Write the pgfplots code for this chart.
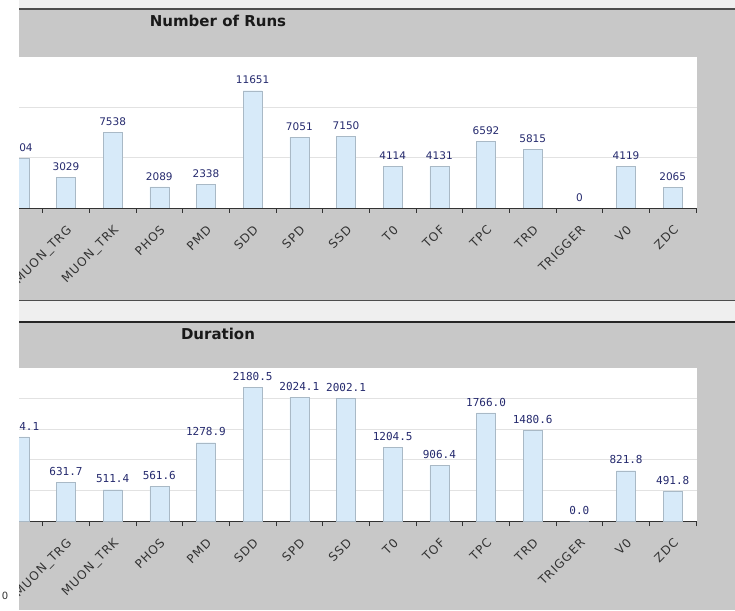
\documentclass[border=0pt]{standalone}
\usepackage{pgfplots}
\pgfplotsset{compat=1.18}
\usepackage{fontspec}
\setmainfont{DejaVu Sans}
\newfontfamily\monofont{DejaVu Sans Mono}
\newfontfamily\tickfont[LetterSpace=8]{DejaVu Sans}
\definecolor{panel}{HTML}{C8C8C8}
\definecolor{strip}{HTML}{EFEFEF}
\definecolor{darkline}{HTML}{4D4D4D}
\definecolor{barfill}{HTML}{D7EAF9}
\definecolor{bardraw}{HTML}{A9B9C6}
\definecolor{valblue}{HTML}{252A6E}
\definecolor{tickgray}{HTML}{333333}
\definecolor{gridc}{HTML}{E2E2E2}

\pgfplotsset{
  chartstyle/.style={
    scale only axis, width=678pt,
    xmin=-0.006, xmax=14.52, ymin=0,
    axis lines*=left,
    y axis line style={draw=none},
    x axis line style={draw=black!80, line width=0.8pt},
    axis background/.style={fill=white},
    ymajorgrids, grid style={gridc, line width=0.8pt},
    scaled y ticks=false,
    yticklabels={}, ytick style={draw=none},
    xtick={1,...,14},
    xticklabels={MUON\_TRG,MUON\_TRK,PHOS,PMD,SDD,SPD,SSD,T0,TOF,TPC,TRD,TRIGGER,V0,ZDC},
    major x tick style={draw=none},
    minor xtick={0.5,1.5,...,14.5},
    minor x tick style={draw=black!80, line width=0.8pt},
    minor tick length=5pt, tick align=inside,
    xticklabel style={rotate=45, anchor=north east, inner sep=0pt,
      font=\tickfont\fontsize{12}{14}\selectfont, text=tickgray},
    xticklabel shift=12pt,
    /pgf/number format/assume math mode=true,
    ybar, bar width=19pt,
    every node near coord/.append style={inner sep=0pt, yshift=6.5pt, text=valblue},
  }
}

\begin{document}
\begin{tikzpicture}[x=1pt,y=1pt]
\useasboundingbox (0,0) rectangle (735,610);
\fill[white] (0,0) rectangle (735,610);
% top panel
\fill[strip] (19,602) rectangle (735,610);
\fill[darkline] (19,600) rectangle (735,602);
\fill[panel] (19,310) rectangle (735,600);
% separator
\fill[darkline] (19,308.5) rectangle (735,310);
\fill[strip] (19,289) rectangle (735,308.5);
\fill[black!85] (19,287) rectangle (735,289);
\fill[panel] (19,0) rectangle (735,287);

\begin{axis}[chartstyle, at={(19pt,402pt)}, anchor=south west,
  height=151pt, ymax=15000, ytick={5000,10000},
  nodes near coords={\pgfmathprintnumber[fixed,precision=0,1000 sep={}]{\pgfplotspointmeta}},
  every node near coord/.append style={font=\fontsize{10.5}{12}\selectfont},
]
\addplot[fill=barfill, draw=bardraw] coordinates {
(0,4904) (1,3029) (2,7538) (3,2089) (4,2338) (5,11651) (6,7051) (7,7150)
(8,4114) (9,4131) (10,6592) (11,5815) (12,0) (13,4119) (14,2065)};
\end{axis}

\begin{axis}[chartstyle, at={(19pt,89pt)}, anchor=south west,
  height=153pt, ymax=2500, ytick={500,1000,1500,2000},
  nodes near coords={\pgfmathprintnumber[fixed,zerofill,precision=1,1000 sep={}]{\pgfplotspointmeta}},
  every node near coord/.append style={font=\monofont\fontsize{11}{13}\selectfont},
]
\addplot[fill=barfill, draw=bardraw] coordinates {
(0,1374.1) (1,631.7) (2,511.4) (3,561.6) (4,1278.9) (5,2180.5) (6,2024.1) (7,2002.1)
(8,1204.5) (9,906.4) (10,1766.0) (11,1480.6) (12,0) (13,821.8) (14,491.8)};
\end{axis}

% left white strip (crop edge)
\fill[white] (0,0) rectangle (19,610);
\node[font=\normalfont\fontsize{10}{12}\selectfont, text=tickgray, inner sep=0pt] at (5,14) {0};

% titles
\node[font=\fontsize{15}{18}\selectfont\bfseries, text=black!90, inner sep=0pt] at (218,589) {Number of Runs};
\node[font=\fontsize{15}{18}\selectfont\bfseries, text=black!90, inner sep=0pt] at (218,276) {Duration};
\end{tikzpicture}
\end{document}
